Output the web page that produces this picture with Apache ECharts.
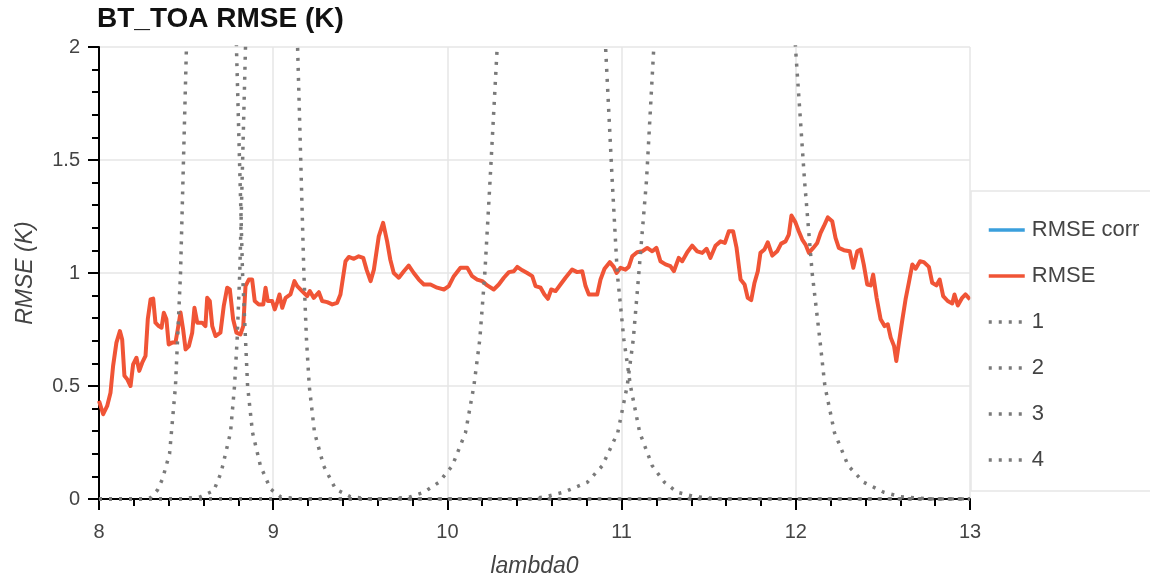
<!DOCTYPE html>
<html>
<head>
<meta charset="utf-8">
<script src="https://cdn.jsdelivr.net/npm/echarts@6/dist/echarts.min.js"></script>
<style>
  html, body { margin: 0; padding: 0; background: #fff; }
  #main { width: 1150px; height: 583px; }
</style>
</head>
<body>
<div id="main"></div>
<script>
// RMSE vs lambda0
var rmseX = [8.000, 8.024, 8.047, 8.066, 8.081, 8.100, 8.120, 8.133, 8.146, 8.162, 8.181, 8.196, 8.215, 8.231, 8.248, 8.267,
  8.280, 8.296, 8.311, 8.324, 8.343, 8.359, 8.372, 8.387, 8.400, 8.420, 8.439, 8.452, 8.468, 8.483, 8.497, 8.516,
  8.535, 8.548, 8.564, 8.592, 8.611, 8.621, 8.636, 8.650, 8.669, 8.697, 8.716, 8.736, 8.751, 8.770, 8.789, 8.812,
  8.828, 8.841, 8.860, 8.879, 8.894, 8.917, 8.943, 8.956, 8.969, 8.994, 9.009, 9.023, 9.036, 9.052, 9.071, 9.099,
  9.122, 9.138, 9.166, 9.195, 9.210, 9.233, 9.262, 9.281, 9.310, 9.339, 9.367, 9.386, 9.415, 9.434, 9.463, 9.491,
  9.517, 9.536, 9.559, 9.578, 9.606, 9.631, 9.654, 9.672, 9.692, 9.721, 9.750, 9.778, 9.807, 9.836, 9.865, 9.903,
  9.941, 9.980, 10.008, 10.037, 10.075, 10.114, 10.142, 10.171, 10.200, 10.229, 10.266, 10.295, 10.324, 10.353, 10.381, 10.401,
  10.430, 10.458, 10.487, 10.506, 10.535, 10.557, 10.577, 10.596, 10.621, 10.649, 10.678, 10.716, 10.745, 10.774, 10.793, 10.812,
  10.840, 10.860, 10.879, 10.902, 10.932, 10.955, 10.971, 10.994, 11.022, 11.041, 11.061, 11.089, 11.118, 11.147, 11.176, 11.200,
  11.223, 11.252, 11.280, 11.300, 11.328, 11.348, 11.377, 11.405, 11.434, 11.463, 11.488, 11.510, 11.539, 11.568, 11.593, 11.616,
  11.640, 11.660, 11.683, 11.706, 11.724, 11.744, 11.763, 11.782, 11.797, 11.820, 11.839, 11.865, 11.893, 11.916, 11.941, 11.960,
  11.975, 11.998, 12.017, 12.037, 12.056, 12.075, 12.100, 12.123, 12.142, 12.161, 12.184, 12.209, 12.228, 12.247, 12.276, 12.310,
  12.330, 12.353, 12.372, 12.390, 12.410, 12.430, 12.444, 12.464, 12.487, 12.510, 12.528, 12.545, 12.564, 12.577, 12.592, 12.612,
  12.630, 12.649, 12.669, 12.688, 12.713, 12.735, 12.764, 12.783, 12.807, 12.826, 12.846, 12.872, 12.898, 12.911, 12.930, 12.955,
  12.974, 13.000];
var rmseY = [0.434, 0.375, 0.412, 0.470, 0.589, 0.692, 0.743, 0.706, 0.545, 0.530, 0.500, 0.596, 0.625, 0.567, 0.603, 0.633,
  0.795, 0.883, 0.887, 0.780, 0.765, 0.758, 0.824, 0.795, 0.684, 0.692, 0.692, 0.750, 0.825, 0.750, 0.662, 0.677,
  0.736, 0.846, 0.780, 0.780, 0.765, 0.890, 0.876, 0.765, 0.721, 0.736, 0.853, 0.935, 0.927, 0.795, 0.736, 0.728,
  0.765, 0.942, 0.971, 0.971, 0.876, 0.861, 0.861, 0.935, 0.876, 0.876, 0.839, 0.870, 0.905, 0.846, 0.890, 0.905,
  0.964, 0.942, 0.920, 0.898, 0.920, 0.890, 0.915, 0.876, 0.871, 0.861, 0.868, 0.905, 1.052, 1.071, 1.063, 1.074,
  1.067, 1.015, 0.964, 1.015, 1.162, 1.222, 1.140, 1.060, 1.000, 0.979, 1.008, 1.033, 1.000, 0.971, 0.949, 0.949,
  0.935, 0.927, 0.942, 0.986, 1.023, 1.023, 0.986, 0.971, 0.964, 0.945, 0.927, 0.949, 0.979, 1.004, 1.008, 1.027,
  1.012, 1.000, 0.986, 0.942, 0.935, 0.905, 0.886, 0.927, 0.920, 0.949, 0.979, 1.015, 1.004, 1.008, 0.942, 0.905,
  0.905, 0.905, 0.971, 1.019, 1.048, 1.027, 1.000, 1.023, 1.015, 1.027, 1.074, 1.092, 1.096, 1.111, 1.096, 1.111,
  1.052, 1.038, 1.030, 1.008, 1.067, 1.052, 1.092, 1.121, 1.096, 1.089, 1.107, 1.067, 1.121, 1.140, 1.133, 1.185,
  1.185, 1.111, 0.971, 0.949, 0.890, 0.880, 0.957, 1.008, 1.089, 1.104, 1.136, 1.077, 1.096, 1.130, 1.140, 1.170,
  1.254, 1.224, 1.185, 1.148, 1.126, 1.089, 1.111, 1.133, 1.177, 1.207, 1.246, 1.229, 1.155, 1.111, 1.101, 1.096,
  1.023, 1.096, 1.104, 1.038, 0.949, 0.945, 0.993, 0.890, 0.795, 0.765, 0.773, 0.714, 0.677, 0.611, 0.692, 0.795,
  0.883, 0.957, 1.038, 1.019, 1.052, 1.048, 1.027, 0.957, 0.945, 0.971, 0.898, 0.876, 0.865, 0.905, 0.856, 0.890,
  0.905, 0.883];

// corrected RMSE: not visible in the picture
var rmseCorrX = [];
var rmseCorrY = [];

// band response curves 1..4 (peaks run far above the axis top)
var band1X = [8.000, 8.238, 8.296, 8.336, 8.365, 8.405, 8.439, 8.468, 8.502, 8.531, 8.577, 8.646, 8.715, 8.761, 8.789, 8.824, 8.853, 8.881, 8.927, 8.985, 9.042, 9.157, 13.000];
var band1Y = [0, 0, 0.006, 0.04, 0.09, 0.2, 0.5, 1.0, 2.0, 3.5, 6.5, 10, 6.5, 3.5, 2.0, 1.0, 0.5, 0.295, 0.146, 0.044, 0.01, 0, 0];
var band2X = [8.000, 8.468, 8.583, 8.659, 8.701, 8.755, 8.778, 8.793, 8.808, 8.841, 8.870, 8.921, 8.990, 9.059, 9.111, 9.140, 9.176, 9.191, 9.207, 9.237, 9.290, 9.358, 9.444, 9.559, 13.000];
var band2Y = [0, 0, 0.01, 0.037, 0.117, 0.295, 0.5, 0.706, 1.0, 2.0, 3.5, 6.5, 10, 6.5, 3.5, 2.0, 1.0, 0.706, 0.5, 0.295, 0.146, 0.044, 0.01, 0, 0];
var band3X = [8.000, 9.673, 9.788, 9.865, 9.951, 10.028, 10.104, 10.152, 10.186, 10.215, 10.243, 10.286, 10.334, 10.420, 10.597, 10.764, 10.856, 10.908, 10.946, 10.975, 11.013, 11.051, 11.104, 11.176, 11.246, 11.319, 11.424, 11.568, 13.000];
var band3Y = [0, 0, 0.01, 0.03, 0.074, 0.147, 0.294, 0.5, 0.706, 1.0, 1.383, 2.0, 3.2, 5.5, 8.5, 5.5, 3.2, 2.0, 1.41, 1.0, 0.706, 0.5, 0.294, 0.147, 0.074, 0.03, 0.01, 0, 0];
var band4X = [8.000, 10.477, 10.563, 10.668, 10.803, 10.889, 10.978, 11.032, 11.067, 11.099, 11.143, 11.185, 11.252, 11.395, 11.594, 11.797, 11.935, 11.998, 12.050, 12.094, 12.138, 12.167, 12.222, 12.301, 12.390, 12.505, 12.601, 12.773, 13.000];
var band4Y = [0, 0, 0.01, 0.03, 0.074, 0.147, 0.294, 0.5, 0.706, 1.0, 1.41, 2.0, 3.2, 5.5, 8, 5.5, 3.2, 2.0, 1.41, 1.0, 0.706, 0.5, 0.294, 0.147, 0.074, 0.03, 0.01, 0, 0];

var seriesNames = ['RMSE corr', 'RMSE', '1', '2', '3', '4'];
var yTicks = [0, 0.5, 1, 1.5, 2];
var xTicks = [8, 9, 10, 11, 12, 13];

function pairs(xs, ys) {
  return xs.map(function (x, i) { return [x, ys[i]]; });
}

var FONT = '"Liberation Sans", Arial, Helvetica, sans-serif';
var GREY = '#7a7a7a';
var dotted = {
  type: 'line',
  symbol: 'none',
  lineStyle: { color: GREY, width: 3.5, type: [3, 7], cap: 'butt' },
  itemStyle: { color: GREY }
};

var chart = echarts.init(document.getElementById('main'), null, { renderer: 'canvas' });
chart.setOption({
  animation: false,
  backgroundColor: '#fff',
  title: {
    text: 'BT_TOA RMSE (K)',
    left: 92,
    top: 5,
    padding: [0, 5],
    textStyle: { fontFamily: FONT, fontSize: 28, fontWeight: 'bold', color: '#111' }
  },
  grid: { left: 99, right: 180, top: 47, bottom: 83, containLabel: false },
  legend: {
    orient: 'vertical',
    left: 971,
    top: 191,
    padding: [28, 200, 20, 16],
    borderColor: '#e6e6e6',
    borderWidth: 1.5,
    itemWidth: 36,
    itemHeight: 20,
    itemGap: 24,
    icon: 'inherit',
    itemStyle: { opacity: 0 },
    lineStyle: { width: 3.5 },
    data: seriesNames,
    textStyle: { fontFamily: FONT, fontSize: 22, lineHeight: 22, color: '#444', padding: [0, 0, 0, 2] }
  },
  xAxis: {
    type: 'value',
    min: xTicks[0],
    max: xTicks[xTicks.length - 1],
    interval: 1,
    name: 'lambda0',
    nameLocation: 'middle',
    nameGap: 56,
    nameTextStyle: { fontFamily: FONT, fontSize: 23, fontStyle: 'italic', color: '#444' },
    axisLine: { show: true, onZero: false, lineStyle: { color: '#000', width: 2 } },
    axisTick: { show: true, length: 11, lineStyle: { color: '#000', width: 2 } },
    minorTick: { show: true, splitNumber: 5, length: 7, lineStyle: { color: '#000', width: 2 } },
    axisLabel: { margin: 23, fontFamily: FONT, fontSize: 20, color: '#444' },
    splitLine: { show: true, lineStyle: { color: '#e6e6e6', width: 1.5 } }
  },
  yAxis: {
    type: 'value',
    min: yTicks[0],
    max: yTicks[yTicks.length - 1],
    interval: 0.5,
    name: 'RMSE (K)',
    nameLocation: 'middle',
    nameGap: 62,
    nameTextStyle: { fontFamily: FONT, fontSize: 23, fontStyle: 'italic', color: '#444' },
    axisLine: { show: true, lineStyle: { color: '#000', width: 2 } },
    axisTick: { show: true, length: 11, lineStyle: { color: '#000', width: 2 } },
    minorTick: { show: true, splitNumber: 5, length: 7, lineStyle: { color: '#000', width: 2 } },
    axisLabel: { margin: 19, fontFamily: FONT, fontSize: 20, color: '#444' },
    splitLine: { show: true, lineStyle: { color: '#e6e6e6', width: 1.5 } }
  },
  series: [
    {
      name: seriesNames[0], type: 'line', symbol: 'none',
      lineStyle: { color: '#3a9fdc', width: 4 }, itemStyle: { color: '#3a9fdc' },
      data: pairs(rmseCorrX, rmseCorrY)
    },
    {
      name: seriesNames[1], type: 'line', symbol: 'none',
      lineStyle: { color: '#f05436', width: 4, join: 'round' }, itemStyle: { color: '#f05436' },
      data: pairs(rmseX, rmseY)
    },
    Object.assign({ name: seriesNames[2], data: pairs(band1X, band1Y) }, dotted),
    Object.assign({ name: seriesNames[3], data: pairs(band2X, band2Y) }, dotted),
    Object.assign({ name: seriesNames[4], data: pairs(band3X, band3Y) }, dotted),
    Object.assign({ name: seriesNames[5], data: pairs(band4X, band4Y) }, dotted)
  ]
});
</script>
</body>
</html>
